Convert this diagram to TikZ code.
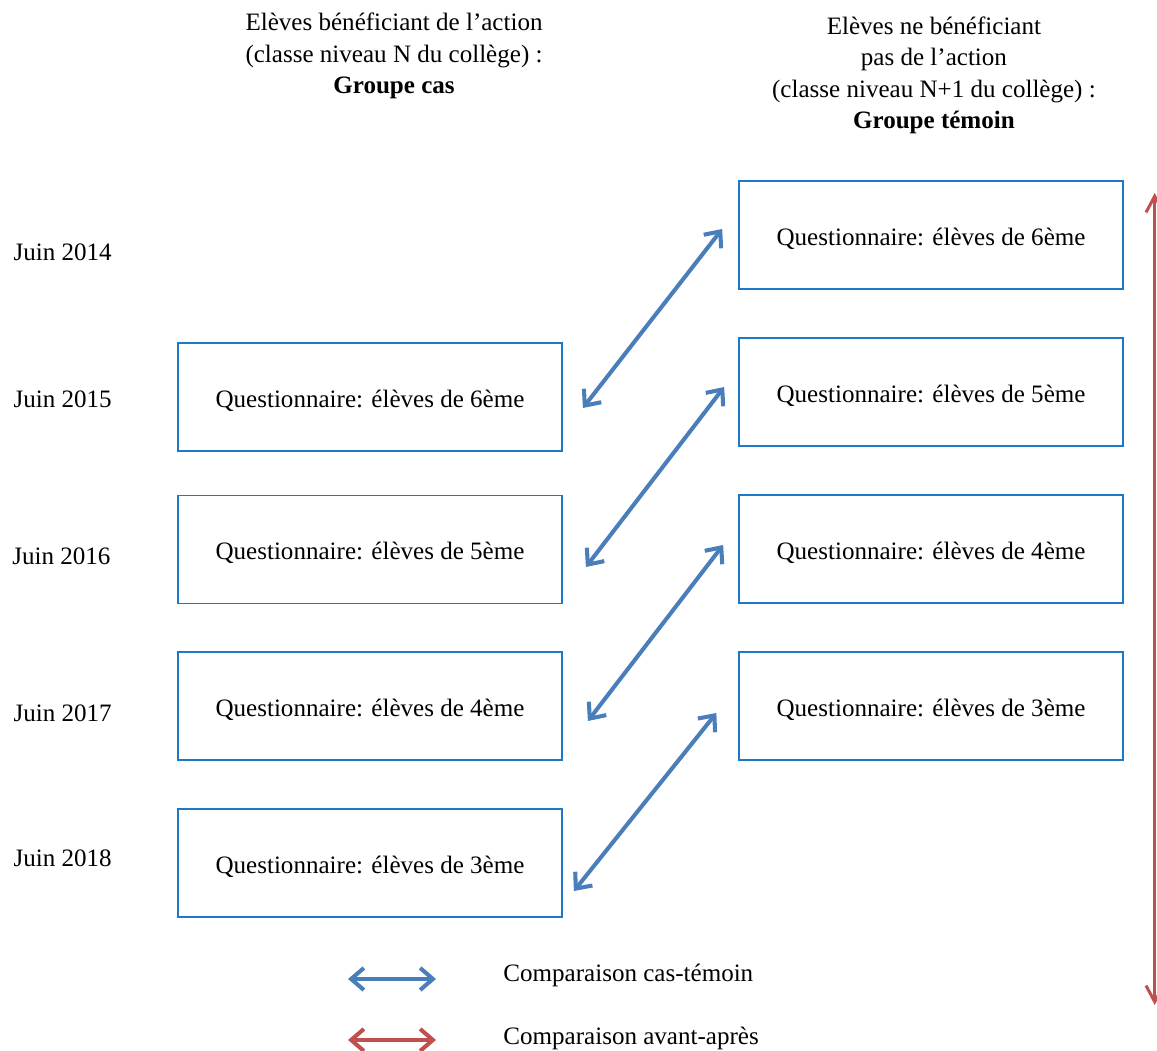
\documentclass[tikz,border=0pt]{standalone}
\usepackage{fontspec}
\setmainfont{Liberation Serif}
\usetikzlibrary{arrows.meta}
\definecolor{boxblue}{RGB}{30,120,200}
\definecolor{cmpblue}{RGB}{74,126,187}
\definecolor{evored}{RGB}{192,80,77}
\begin{document}
\begin{tikzpicture}[font=\fontsize{10.8}{13.6}\selectfont,
  box/.style={draw=boxblue, line width=0.7pt, minimum width=5.82cm, minimum height=1.64cm, inner sep=0pt, text height=8.9pt, text depth=0pt},
  cmp/.style={cmpblue, line width=1.75pt, {Straight Barb[length=5.5pt,width=9.5pt]}-{Straight Barb[length=5.5pt,width=9.5pt]}},
  evo/.style={evored, line width=1.3pt, {Straight Barb[length=7pt,width=7.5pt]}-{Straight Barb[length=7pt,width=7.5pt]}}]
  \useasboundingbox (0,0) rectangle (17.53,15.909);
  % headers
  \node[align=center] (hcas) at (5.97,15.06) {Elèves bénéficiant de l’action\\(classe niveau N du collège) :\\\textbf{Groupe cas}};
  \node[align=center] (htem) at (14.15,14.765) {Elèves ne bénéficiant\\pas de l’action\\(classe niveau N+1 du collège) :\\\textbf{Groupe témoin}};
  % years
  \node (y14) at (0.95,12.09) {Juin 2014};
  \node (y15) at (0.95,9.864) {Juin 2015};
  \node (y16) at (0.93,7.485) {Juin 2016};
  \node (y17) at (0.95,5.106) {Juin 2017};
  \node (y18) at (0.95,2.909) {Juin 2018};
  % groupe cas
  \node[box] (l1) at (5.606,9.894) {Questionnaire: élèves de 6ème};
  \node[box] (l2) at (5.606,7.583) {Questionnaire: élèves de 5ème};
  \node[box] (l3) at (5.606,5.212) {Questionnaire: élèves de 4ème};
  \node[box] (l4) at (5.606,2.833) {Questionnaire: élèves de 3ème};
  % groupe temoin
  \node[box] (r1) at (14.106,12.348) {Questionnaire: élèves de 6ème};
  \node[box] (r2) at (14.106,9.970) {Questionnaire: élèves de 5ème};
  \node[box] (r3) at (14.106,7.591) {Questionnaire: élèves de 4ème};
  \node[box] (r4) at (14.106,5.212) {Questionnaire: élèves de 3ème};
  % cas-temoin
  \draw[cmp] ([xshift=0.303cm,yshift=-0.167cm]l1.east) -- ([xshift=-0.242cm,yshift=0.091cm]r1.west);
  \draw[cmp] ([xshift=0.349cm,yshift=-0.265cm]l2.east) -- ([xshift=-0.212cm,yshift=0.075cm]r2.west);
  \draw[cmp] ([xshift=0.379cm,yshift=-0.227cm]l3.east) -- ([xshift=-0.227cm,yshift=0.061cm]r3.west);
  \draw[cmp] ([xshift=0.167cm,yshift=-0.424cm]l4.east) -- ([xshift=-0.33cm,yshift=-0.106cm]r4.west);
  % avant-apres
  \coordinate (evotop) at (17.495,12.985);
  \coordinate (evobot) at (17.495,0.682);
  \draw[evo] (evobot) -- (evotop);
  % legend
  \coordinate (lc1) at (5.273,1.076);
  \coordinate (lc2) at (6.606,1.076);
  \draw[cmp] (lc1) -- (lc2);
  \node[anchor=west, inner sep=0pt] (tc) at (7.621,1.13) {Comparaison cas-témoin};
  \coordinate (le1) at (5.273,0.152);
  \coordinate (le2) at (6.606,0.152);
  \draw[cmp, evored] (le1) -- (le2);
  \node[anchor=west, inner sep=0pt] (te) at (7.621,0.18) {Comparaison avant-après};
\end{tikzpicture}
\end{document}
